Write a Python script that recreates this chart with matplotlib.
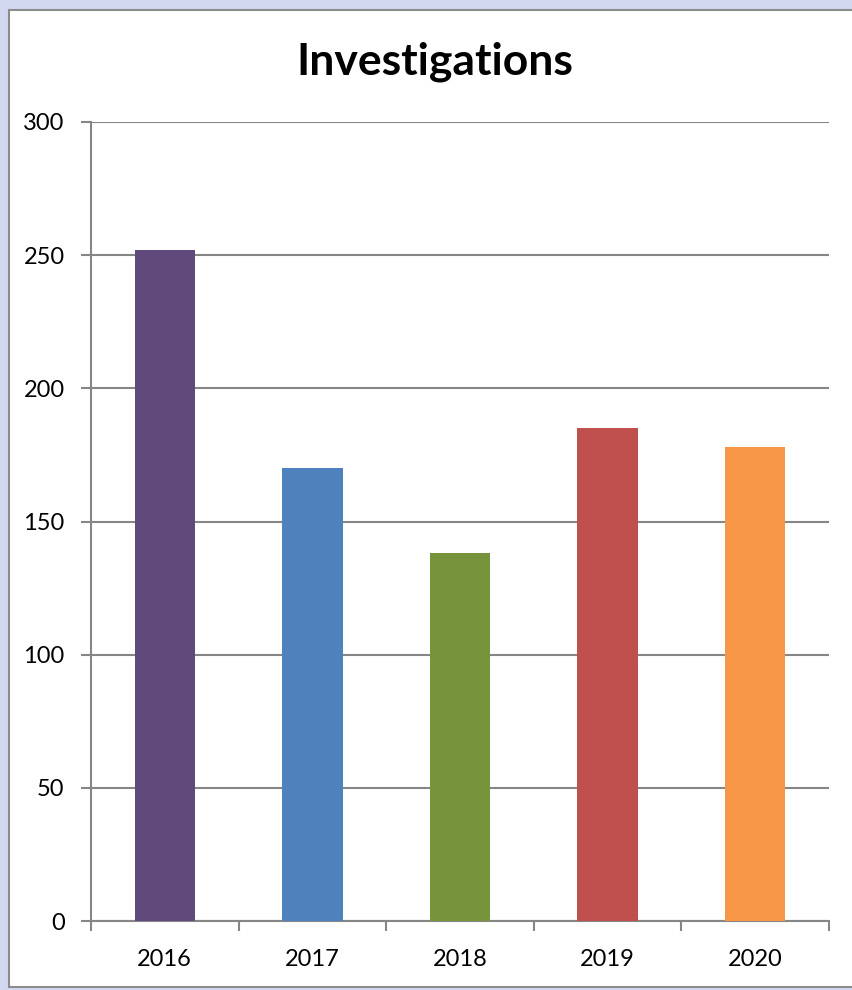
import matplotlib.pyplot as plt
from matplotlib.patches import Rectangle

years = ["2016", "2017", "2018", "2019", "2020"]
investigations = [252, 170, 138, 185, 178]
bar_colors = ["#604A7B", "#4F81BD", "#77933C", "#C0504D", "#F79646"]

plt.rcParams['font.family'] = ['Lato', 'DejaVu Sans']

fig = plt.figure(figsize=(8.52, 9.9), dpi=100)
fig.patch.set_facecolor("#d3d8f1")

# white chart panel with grey border
W, H = 852, 990
panel = Rectangle((9 / W, 3 / H), 1.0, (987 - 10) / H, transform=fig.transFigure,
                  facecolor="white", edgecolor="#8c8c8c", linewidth=1.5, zorder=-1)
fig.patches.append(panel)

ax = fig.add_axes([91 / W, (990 - 921) / H, (829 - 91) / W, (921 - 122) / H])
ax.set_facecolor("none")
ax.set_zorder(1)

x = range(len(years))
ax.bar(x, investigations, width=0.41, color=bar_colors, zorder=3)

ax.set_xlim(-0.5, len(years) - 0.5)
ax.set_ylim(0, 300)
ax.set_yticks(range(0, 301, 50))
ax.yaxis.grid(True, color="#868686", linewidth=1.5, zorder=0)

ax.set_xticks(list(x))
ax.set_xticklabels(years)
ax.set_xticks([i - 0.5 for i in range(len(years) + 1)], minor=True)
ax.tick_params(axis="x", which="major", length=0, pad=20, labelsize=17)
ax.tick_params(axis="x", which="minor", length=7, width=1.5, color="#868686", direction="out")
ax.tick_params(axis="y", length=7, width=1.5, color="#868686", labelsize=17, pad=12)

for side in ["top", "right"]:
    ax.spines[side].set_visible(False)
for side in ["left", "bottom"]:
    ax.spines[side].set_color("#868686")
    ax.spines[side].set_linewidth(1.5)

fig.text(435 / W, 1 - 62 / H, "Investigations", ha="center", va="center",
         fontsize=32, fontweight="bold", zorder=2)

fig.savefig("out.png", dpi=100, facecolor=fig.get_facecolor())
